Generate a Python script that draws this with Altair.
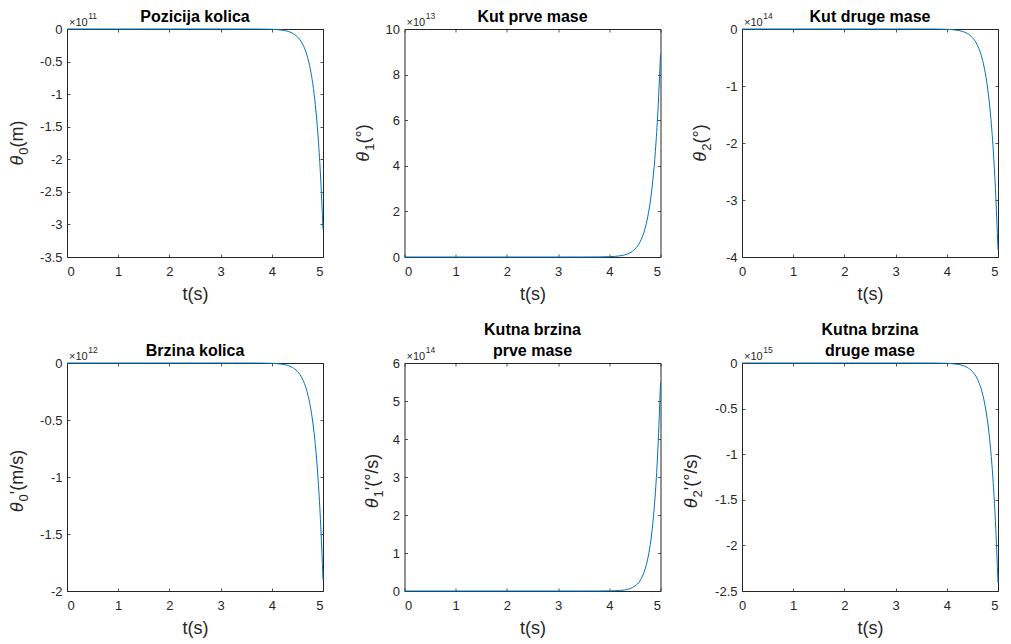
import altair as alt
import pandas as pd

# time samples (s)
T = [0, 1, 2, 3, 3.5, 3.8, 4.0, 4.1, 4.2, 4.3, 4.4, 4.5, 4.6, 4.7, 4.75, 4.8, 4.85, 4.9, 4.95, 5.0]

# values in units of the axis multiplier
POZICIJA = [0, 0, 0, 0, -0.0002, -0.0013, -0.0046, -0.0089, -0.017, -0.033, -0.062, -0.12, -0.229, -0.437, -0.607, -0.839, -1.161, -1.608, -2.225, -3.08]      # x1e11
KUT1 = [0, 0, 0, 0, 0.0005, 0.0036, 0.0133, 0.0258, 0.049, 0.094, 0.179, 0.345, 0.66, 1.261, 1.749, 2.42, 3.35, 4.64, 6.42, 8.88]                               # x1e13
KUT2 = [0, 0, 0, 0, -0.0002, -0.0016, -0.0058, -0.0113, -0.0213, -0.0411, -0.0784, -0.151, -0.288, -0.551, -0.764, -1.057, -1.463, -2.025, -2.803, -3.88]      # x1e14
BRZINA = [0, 0, 0, 0, -0.0001, -0.0008, -0.0029, -0.0055, -0.0105, -0.0201, -0.0384, -0.0737, -0.141, -0.27, -0.374, -0.518, -0.716, -0.992, -1.373, -1.9]    # x1e12
KBRZ1 = [0, 0, 0, 0, 0, 0.0005, 0.003, 0.0066, 0.014, 0.028, 0.061, 0.129, 0.27, 0.58, 0.84, 1.22, 1.78, 2.59, 3.76, 5.48]                                     # x1e14
KBRZ2 = [0, 0, 0, 0, -0.0001, -0.001, -0.0036, -0.007, -0.0133, -0.0255, -0.0487, -0.0935, -0.179, -0.342, -0.475, -0.657, -0.909, -1.258, -1.741, -2.41]      # x1e15

TITLES = [["Pozicija kolica"], ["Kut prve mase"], ["Kut druge mase"],
          ["Brzina kolica"], ["Kutna brzina", "prve mase"], ["Kutna brzina", "druge mase"]]
EXPONENTS = ["11", "13", "14", "12", "14", "15"]
SUBS = ["0", "1", "2", "0", "1", "2"]
UNITS = ["(m)", "(°)", "(°)", "(m/s)", "(°/s)", "(°/s)"]
PRIMES = [False, False, False, True, True, True]
YDOMAINS = [[-3.5, 0], [0, 10], [-4, 0], [-2, 0], [0, 6], [-2.5, 0]]
YTICKS = [[-3.5, -3, -2.5, -2, -1.5, -1, -0.5, 0],
          [0, 2, 4, 6, 8, 10],
          [-4, -3, -2, -1, 0],
          [-2, -1.5, -1, -0.5, 0],
          [0, 1, 2, 3, 4, 5, 6],
          [-2.5, -2, -1.5, -1, -0.5, 0]]
XTICKS = [0, 1, 2, 3, 4, 5]

FONT = "Liberation Sans"
AX = "#262626"
BLUE = "#0072BD"
W, H = 256, 228
YTITLE_X = [-44, -36, -36, -44, -27, -45]
YTITLE_MID = [114, 114, 114, 118, 118, 118]

CW = {'(': .333, ')': .333, 'm': .833, 's': .5, '/': .278, '°': .4, "'": .191,
      'θ': .52, '×': .584}


def tw(s, size):
    return sum(CW.get(c, .556) for c in s) * size


ONE = pd.DataFrame({"k": [0]})


def ylabel_layers(sub, unit, prime, xoff, ymid):
    pieces = [("θ", 18, "italic", 0), (sub, 13, "normal", 5)]
    if prime:
        pieces.append(("'", 18, "normal", 0))
    pieces.append((unit, 18, "normal", 0))
    widths = [tw(p[0], p[1]) for p in pieces]
    widths[0] += 1.5
    total = sum(widths)
    start = ymid + total / 2
    layers = []
    cum = 0
    for (txt, size, style, shift), w in zip(pieces, widths):
        layers.append(
            alt.Chart(ONE).mark_text(text=txt, angle=270, align="left", baseline="alphabetic",
                                     font=FONT, fontSize=size, fontStyle=style, color=AX)
            .encode(x=alt.value(xoff + shift), y=alt.value(start - cum)))
        cum += w
    return layers


def exponent_layers(exp):
    base = alt.Chart(ONE).mark_text(text="×10", align="left", baseline="alphabetic",
                                    font=FONT, fontSize=11, color=AX).encode(
        x=alt.value(2), y=alt.value(-3))
    sup = alt.Chart(ONE).mark_text(text=exp, align="left", baseline="alphabetic",
                                   font=FONT, fontSize=8.5, color=AX).encode(
        x=alt.value(2 + tw("×10", 11) + 0.5), y=alt.value(-10))
    return [base, sup]


def title_layers(lines):
    layers = []
    n = len(lines)
    for k, txt in enumerate(lines):
        layers.append(
            alt.Chart(ONE).mark_text(text=txt, align="center", baseline="alphabetic",
                                     font=FONT, fontSize=16, fontWeight="bold", color="black")
            .encode(x=alt.value(W / 2), y=alt.value(-7.5 - 20.5 * (n - 1 - k))))
    return layers


def panel(i, vals):
    df = pd.DataFrame({"t": T, "v": vals})
    xs = alt.Scale(domain=[0, 5], nice=False, zero=False)
    ys = alt.Scale(domain=YDOMAINS[i], nice=False, zero=False)
    lab = "toString(datum.value)"
    xaxis_extra = {}
    if i % 3 == 2:
        xaxis_extra["labelAlign"] = {"condition": {"test": "datum.value == 5", "value": "right"},
                                     "value": "center"}
    line = alt.Chart(df).mark_line(color=BLUE, strokeWidth=1, interpolate="monotone").encode(
        x=alt.X("t:Q", scale=xs, axis=alt.Axis(orient="bottom", values=XTICKS, title="t(s)",
                                                 ticks=False, tickSize=0, domain=False, grid=False,
                                                 labelPadding=8, titlePadding=7, labelExpr=lab,
                                                 **xaxis_extra)),
        y=alt.Y("v:Q", scale=ys, axis=alt.Axis(orient="left", values=YTICKS[i], title=None,
                                                 ticks=False, tickSize=0, domain=False, grid=False,
                                                 labelPadding=5, labelExpr=lab)))
    tk = dict(labels=False, title=None, grid=False, domain=False, tickSize=3,
              tickColor=AX, tickWidth=0.8)
    t1 = alt.Chart(df).mark_line(opacity=0).encode(
        x=alt.X("t:Q", scale=xs, axis=alt.Axis(orient="top", offset=-H, values=XTICKS, **tk)),
        y=alt.Y("v:Q", scale=ys, axis=alt.Axis(orient="right", offset=-W, values=YTICKS[i], **tk)))
    t2 = alt.Chart(df).mark_line(opacity=0).encode(
        x=alt.X("t:Q", scale=xs, axis=alt.Axis(orient="bottom", offset=-H, values=XTICKS, **tk)),
        y=alt.Y("v:Q", scale=ys, axis=alt.Axis(orient="left", offset=-W, values=YTICKS[i], **tk)))
    layers = [t1, t2, line] + exponent_layers(EXPONENTS[i]) + title_layers(TITLES[i]) + \
        ylabel_layers(SUBS[i], UNITS[i], PRIMES[i], YTITLE_X[i], YTITLE_MID[i])
    return alt.layer(*layers).resolve_axis(x="independent", y="independent").properties(
        width=W, height=H)


series = [POZICIJA, KUT1, KUT2, BRZINA, KBRZ1, KBRZ2]
panels = [panel(i, s) for i, s in enumerate(series)]

chart = alt.concat(*panels, columns=3, spacing={"row": 106, "column": 81.5}, bounds="flush").properties(
    padding={"left": 0, "top": 0, "right": 0, "bottom": 0}
).configure_view(
    stroke=AX, strokeWidth=1
).configure_axis(
    labelFont=FONT, labelFontSize=13, labelColor=AX,
    titleFont=FONT, titleFontSize=18, titleColor=AX, titleFontWeight="normal"
)

chart.save("out.html", embed_options={"renderer": "svg", "actions": False})
